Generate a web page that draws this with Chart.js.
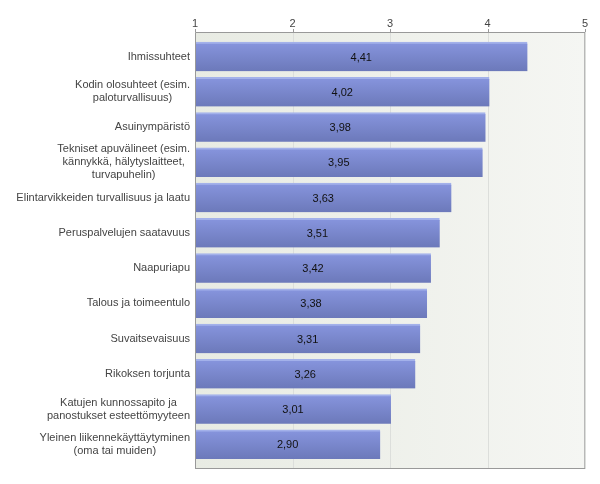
<!DOCTYPE html>
<html>
<head>
<meta charset="utf-8">
<script src="https://cdn.jsdelivr.net/npm/chart.js@4"></script>
<style>
  html, body { margin: 0; padding: 0; background: #fff; }
  #wrap { width: 600px; height: 484px; }
</style>
</head>
<body>
<div id="wrap"><canvas id="chart" width="600" height="484"></canvas></div>
<script>
const categories = [
  ['Ihmissuhteet'],
  ['Kodin olosuhteet (esim.', 'paloturvallisuus)'],
  ['Asuinympäristö'],
  ['Tekniset apuvälineet (esim.', 'kännykkä, hälytyslaitteet,', 'turvapuhelin)'],
  ['Elintarvikkeiden turvallisuus ja laatu'],
  ['Peruspalvelujen saatavuus'],
  ['Naapuriapu'],
  ['Talous ja toimeentulo'],
  ['Suvaitsevaisuus'],
  ['Rikoksen torjunta'],
  ['Katujen kunnossapito ja', 'panostukset esteettömyyteen'],
  ['Yleinen liikennekäyttäytyminen', '(oma tai muiden)'],
];
const values = [4.41, 4.02, 3.98, 3.95, 3.63, 3.51, 3.42, 3.38, 3.31, 3.26, 3.01, 2.90];
const xTicks = [1, 2, 3, 4, 5];

const FONT = 'Arial, "Liberation Sans", sans-serif';
const PLOT_EXTRA = 7; // plot frame reaches a little beyond the category band

// plot background, grid lines, tick marks and frame
const plotFrame = {
  id: 'plotFrame',
  beforeDatasetsDraw(chart) {
    const { ctx, chartArea: a, scales: { x } } = chart;
    const top = a.top - PLOT_EXTRA, bottom = a.bottom + PLOT_EXTRA;
    const g = ctx.createLinearGradient(a.left, 0, a.right, 0);
    g.addColorStop(0, '#e8ebe3');
    g.addColorStop(1, '#f5f6f3');
    ctx.save();
    ctx.fillStyle = g;
    ctx.fillRect(a.left, top, a.right - a.left, bottom - top);
    ctx.lineWidth = 1;
    xTicks.forEach((v) => {
      const px = Math.round(x.getPixelForValue(v)) + 0.5;
      ctx.strokeStyle = '#dcdedb';
      ctx.beginPath();
      ctx.moveTo(px, top);
      ctx.lineTo(px, bottom);
      ctx.stroke();
      ctx.strokeStyle = '#999';
      ctx.beginPath();
      ctx.moveTo(px, top - 3);
      ctx.lineTo(px, top);
      ctx.stroke();
    });
    ctx.restore();
  },
  afterDraw(chart) {
    const { ctx, chartArea: a } = chart;
    const top = a.top - PLOT_EXTRA, bottom = a.bottom + PLOT_EXTRA;
    ctx.save();
    ctx.lineWidth = 1;
    ctx.strokeStyle = '#b8b8b8';
    ctx.beginPath();
    ctx.moveTo(a.right - 0.5, top);
    ctx.lineTo(a.right - 0.5, bottom - 0.5);
    ctx.stroke();
    ctx.strokeStyle = '#999';
    ctx.beginPath();
    ctx.moveTo(a.left, bottom - 0.5);
    ctx.lineTo(a.right, bottom - 0.5);
    ctx.moveTo(a.left + 0.5, bottom);
    ctx.lineTo(a.left + 0.5, top + 0.5);
    ctx.lineTo(a.right, top + 0.5);
    ctx.stroke();
    ctx.restore();
  },
};

// category labels: block right-aligned to the axis, lines centred inside it
const categoryLabels = {
  id: 'categoryLabels',
  afterDraw(chart) {
    const { ctx, chartArea: a, scales: { y } } = chart;
    const lineH = 13;
    ctx.save();
    ctx.font = '11px ' + FONT;
    ctx.fillStyle = '#444';
    ctx.textAlign = 'center';
    ctx.textBaseline = 'middle';
    categories.forEach((lines, i) => {
      const cy = y.getPixelForValue(i);
      const w = Math.max(...lines.map((l) => ctx.measureText(l).width));
      const cx = a.left - 5 - w / 2;
      const y0 = cy - (lines.length - 1) * lineH / 2;
      lines.forEach((l, k) => ctx.fillText(l, cx, y0 + k * lineH));
    });
    ctx.restore();
  },
};

// value labels centred in each bar
const valueLabels = {
  id: 'valueLabels',
  afterDatasetsDraw(chart) {
    const { ctx } = chart;
    const meta = chart.getDatasetMeta(0);
    ctx.save();
    ctx.font = '11px ' + FONT;
    ctx.fillStyle = '#111';
    ctx.textAlign = 'center';
    ctx.textBaseline = 'middle';
    meta.data.forEach((bar, i) => {
      const cx = (bar.x + bar.base) / 2;
      ctx.fillText(values[i].toFixed(2).replace('.', ','), cx, bar.y + 1);
    });
    ctx.restore();
  },
};

function barGradient(c) {
  const chart = c.chart;
  const y = chart.scales.y;
  if (!y || !chart.chartArea) return '#7a88cc';
  const center = y.getPixelForValue(c.dataIndex);
  const half = 14.5;
  const g = chart.ctx.createLinearGradient(0, center - half, 0, center + half);
  g.addColorStop(0, '#8795de');
  g.addColorStop(1, '#6c79ba');
  return g;
}

new Chart(document.getElementById('chart'), {
  type: 'bar',
  data: {
    labels: categories,
    datasets: [{
      data: values.map((v) => [1, v]),
      backgroundColor: barGradient,
      borderColor: '#a3b1ea',
      borderWidth: { top: 2, right: 0, bottom: 0, left: 0 },
      borderSkipped: false,
      barThickness: 29,
    }],
  },
  options: {
    indexAxis: 'y',
    responsive: false,
    animation: false,
    layout: { padding: { top: 0, right: 15, bottom: 22, left: 0 } },
    plugins: { legend: { display: false }, tooltip: { enabled: false } },
    scales: {
      x: {
        position: 'top',
        min: 1,
        max: 5,
        afterBuildTicks: (s) => { s.ticks = xTicks.map((v) => ({ value: v })); },
        afterFit: (s) => { s.height = 39; },
        grid: { display: false, drawTicks: false },
        border: { display: false },
        ticks: { color: '#444', font: { family: FONT, size: 11 }, padding: 8, maxRotation: 0 },
      },
      y: {
        afterFit: (s) => { s.width = 195; },
        grid: { display: false },
        border: { display: false },
        ticks: { display: false },
      },
    },
  },
  plugins: [plotFrame, categoryLabels, valueLabels],
});
</script>
</body>
</html>
